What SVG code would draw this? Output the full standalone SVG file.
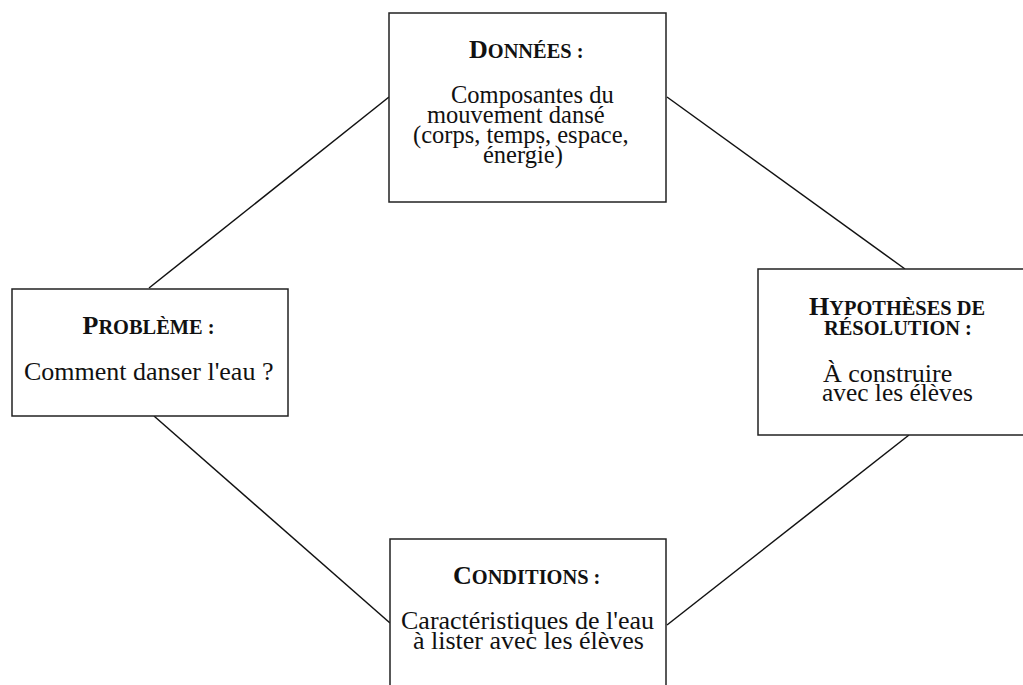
<svg xmlns="http://www.w3.org/2000/svg" width="1023" height="685" viewBox="0 0 1023 685">
<style>
.box{fill:#fff;stroke:#222;stroke-width:1.5}
.con{stroke:#111;stroke-width:1.5;fill:none}
text{font-family:"Liberation Serif","Times New Roman",serif;fill:#111}
.t{font-weight:bold}
.big{font-size:26px}
.sc{font-size:20.4px}
.b{font-size:26px}
</style>
<rect width="1023" height="685" fill="#fff"/>
<g id="connectors">
<line class="con" x1="389" y1="97" x2="149" y2="288"/>
<line class="con" x1="667" y1="97" x2="905" y2="269"/>
<line class="con" x1="154" y1="416" x2="390" y2="623"/>
<line class="con" x1="909" y1="435" x2="667" y2="625"/>
</g>
<g id="donnees">
<rect class="box" x="389" y="13" width="277" height="189"/>
<text class="t" x="469" y="57.5"><tspan class="big">D</tspan><tspan class="sc">ONNÉES :</tspan></text>
<text style="font-size:24.5px"><tspan x="451" y="102.5">Composantes du</tspan><tspan x="427" y="122.5">mouvement dansé</tspan><tspan x="413" y="142.5">(corps, temps, espace,</tspan><tspan x="483" y="162.5">énergie)</tspan></text>
</g>
<g id="hypotheses">
<rect class="box" x="758" y="269" width="270" height="166"/>
<text class="t"><tspan x="809" y="314.5" class="big">H</tspan><tspan class="sc">YPOTHÈSES DE</tspan><tspan class="sc" x="824" y="335">RÉSOLUTION :</tspan></text>
<text class="b"><tspan x="823" y="381.5">À construire</tspan><tspan x="822" y="400.5" style="font-size:25.4px">avec les élèves</tspan></text>
</g>
<g id="probleme">
<rect class="box" x="12" y="289" width="276" height="127"/>
<text class="t" x="82.5" y="334"><tspan class="big">P</tspan><tspan class="sc">ROBLÈME :</tspan></text>
<text class="b" x="24" y="379.5">Comment danser l'eau ?</text>
</g>
<g id="conditions">
<rect class="box" x="390" y="539" width="276" height="170"/>
<text class="t" x="453" y="583.5"><tspan class="big">C</tspan><tspan class="sc">ONDITIONS :</tspan></text>
<text class="b"><tspan x="401" y="628.5">Caractéristiques de l'eau</tspan><tspan x="413" y="648.5">à lister avec les élèves</tspan></text>
</g>
</svg>
